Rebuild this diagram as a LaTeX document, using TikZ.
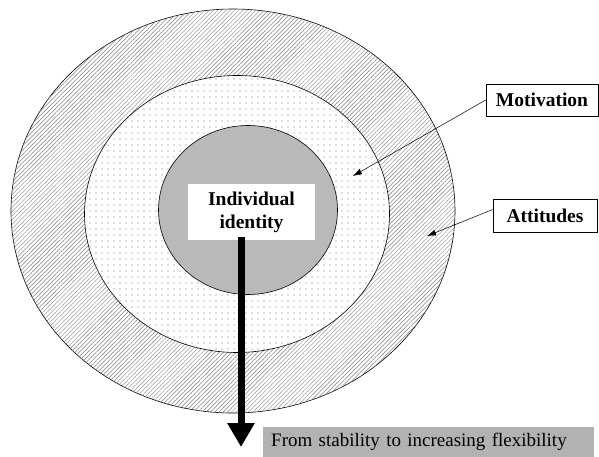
\documentclass[tikz,border=0pt]{standalone}
\usepackage{fontspec}
\setmainfont{Liberation Serif}
\usetikzlibrary{shapes.geometric,patterns.meta,arrows.meta,positioning}

\tikzset{
  ring/.style = {ellipse, draw, line width=0.6pt, inner sep=0pt},
  labelbox/.style = {rectangle, draw, fill=white, line width=0.6pt, inner sep=0pt,
    font=\fontsize{19.5}{22}\selectfont\bfseries},
  pointer/.style = {-{Latex[length=9pt,width=6pt]}, line width=0.5pt},
}

\begin{document}
\begin{tikzpicture}[x=1pt,y=-1pt]
\useasboundingbox (0,0) rectangle (599,457);

% the three rings
\node[ring, minimum width=444pt, minimum height=404pt, fill=white,
  postaction={pattern={Lines[angle=45,distance=3pt,line width=0.45pt]}, pattern color=gray}]
  (outer) at (233,211) {};
\node[ring, minimum width=305pt, minimum height=277pt, fill=white,
  postaction={pattern={Dots[distance=6pt,radius=0.6pt]}, pattern color=black!55}]
  (middle) at (237,214) {};
\node[ring, minimum width=179pt, minimum height=169pt, fill=gray!55] (core) at (248,210) {};

\node[labelbox, draw=none, minimum width=127pt, minimum height=56pt, align=center,
  font=\fontsize{19.5}{23}\selectfont\bfseries] (identity) at (251.5,212) {Individual\\identity};

% labels
\node[labelbox, minimum width=112pt, minimum height=32pt] (motivation) at (542,100) {Motivation};
\node[labelbox, minimum width=104pt, minimum height=33pt] (attitudes) at (545,215.5) {Attitudes};

\coordinate (motivation tip) at (353,176);
\coordinate (attitudes tip) at (427,236);
\draw[pointer] (motivation.west) -- (motivation tip);
\draw[pointer] ([yshift=6pt]attitudes.west) -- (attitudes tip);

% direction of change
\node[rectangle, fill=gray!60, minimum width=331pt, minimum height=30pt, anchor=north west,
  text width=331pt, align=left, inner sep=0pt, font=\fontsize{19}{22}\selectfont]
  (trend) at (263,427) {\hspace*{8pt}From stability to increasing flexibility};

\coordinate (trend tip) at (241,447);
\draw[-{Triangle[length=24pt,width=26pt]}, line width=7pt] ([xshift=-10.5pt,yshift=3pt]identity.south) -- (trend tip);
\end{tikzpicture}
\end{document}
